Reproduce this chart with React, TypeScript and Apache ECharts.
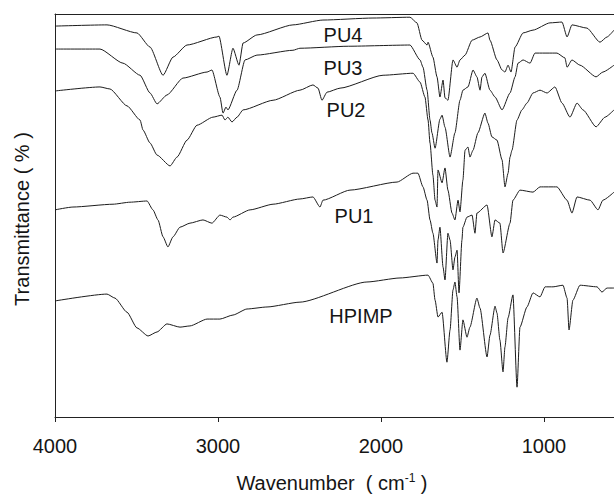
import React, { useEffect, useRef } from "react";
import * as echarts from "echarts";

// FTIR spectra: [wavenumber (cm-1), transmittance (a.u., stacked)]
const PU4: [number, number][] = [
  [4000, 97], [3681, 97.3], [3497, 95.3], [3417, 91.8], [3337, 84.8], [3276, 89.3], [3190, 92.3],
  [3006, 94.3], [2994, 94.5], [2945, 84.8], [2908, 91.5], [2871, 87.3], [2846, 92.8], [2761, 94.8],
  [2540, 97.3], [2356, 98.5], [2049, 99], [1822, 99.2], [1779, 97.8], [1748, 93.5], [1717, 92.3],
  [1711, 93], [1681, 89.3], [1656, 84.4], [1638, 79.4], [1619, 83.6], [1607, 79.2], [1589, 78.6],
  [1558, 88.6], [1533, 86.8], [1515, 88.6], [1484, 89.8], [1441, 93.5], [1392, 94.3], [1343, 95.3],
  [1331, 93.5], [1288, 88.6], [1257, 86.1], [1239, 85.6], [1220, 87.3], [1202, 85.6], [1177, 91.8],
  [1128, 95.3], [1067, 96], [963, 97.8], [889, 98], [858, 94.3], [828, 97.3], [736, 96.5],
  [656, 93], [613, 94.3], [570, 96],
];

const PU3: [number, number][] = [
  [4000, 91.3], [3724, 91.3], [3583, 87.8], [3478, 84.8], [3417, 80.4], [3374, 77.7], [3313, 79.9],
  [3215, 84.1], [3067, 85.6], [3037, 86.1], [2988, 79.4], [2969, 75.4], [2951, 76.9], [2939, 76.2],
  [2883, 81.1], [2834, 88.6], [2761, 89.8], [2540, 91], [2497, 91.5], [2200, 92], [1822, 92.3],
  [1760, 88.6], [1742, 86.8], [1717, 81.1], [1699, 73.7], [1687, 70.5], [1668, 66.7], [1638, 73.9],
  [1625, 74.9], [1607, 71.9], [1576, 64.5], [1546, 70.5], [1515, 78.6], [1497, 81.1], [1466, 81.9],
  [1435, 86.1], [1411, 84.4], [1392, 81.1], [1380, 84.4], [1362, 85.3], [1331, 81.1], [1300, 79.4],
  [1257, 76.2], [1208, 80.4], [1177, 84.4], [1159, 87.8], [1128, 88.6], [1085, 87.8], [1055, 90.3],
  [920, 90.3], [871, 89.1], [858, 86.8], [828, 88.6], [779, 87.3], [680, 84.4], [638, 85.6], [570, 87.3],
];

const PU2: [number, number][] = [
  [4000, 80.9], [3724, 81.9], [3663, 81.4], [3558, 77.2], [3478, 73.7], [3460, 71.2], [3417, 68],
  [3374, 65], [3294, 62.3], [3251, 64.5], [3190, 68.7], [3129, 72.4], [3031, 74.4], [2975, 74.9],
  [2957, 73.7], [2939, 74.4], [2914, 73.2], [2883, 74.4], [2846, 76.2], [2662, 78.6], [2497, 81.1],
  [2417, 82.4], [2386, 81.6], [2362, 78.6], [2331, 80.6], [2251, 81.6], [1987, 84.8], [1803, 85.3],
  [1760, 83.1], [1730, 79.4], [1711, 73.7], [1699, 68], [1681, 60], [1668, 53.8], [1656, 52.1],
  [1650, 61.3], [1625, 58.1], [1607, 61.8], [1589, 56.3], [1564, 50.6], [1546, 48.9], [1527, 53.8],
  [1515, 50.9], [1497, 58.8], [1484, 66.2], [1466, 67], [1454, 64.5], [1435, 66.2], [1405, 70.5],
  [1362, 75.4], [1343, 72.9], [1319, 69.5], [1288, 68.7], [1257, 63.8], [1239, 57.1], [1220, 60.5],
  [1208, 64.5], [1196, 66.2], [1165, 73.7], [1135, 76.2], [1104, 77.9], [1067, 80.4], [1024, 81.1],
  [981, 80.4], [932, 81.9], [889, 77.9], [840, 74.4], [797, 77.9], [760, 76.2], [680, 72],
  [625, 74.4], [570, 76.2],
];

const PU1: [number, number][] = [
  [4000, 51.4], [3890, 52.1], [3644, 52.8], [3540, 53.3], [3435, 53.6], [3399, 51.4], [3368, 48.9],
  [3337, 44.7], [3307, 42.2], [3276, 44.7], [3233, 47.1], [3172, 48.1], [3092, 48.9], [3037, 48.1],
  [2988, 50.1], [2945, 49.6], [2926, 48.9], [2908, 49.6], [2803, 51.4], [2662, 52.8], [2497, 54.1],
  [2417, 54.6], [2374, 52.1], [2356, 53.8], [2190, 56.3], [1901, 58.3], [1803, 60.5], [1773, 60.5],
  [1742, 57.1], [1717, 53.8], [1699, 48.9], [1681, 45.6], [1656, 38.2], [1650, 43.9], [1638, 47.1],
  [1619, 37.2], [1607, 34], [1589, 45.6], [1576, 43.9], [1558, 36.5], [1546, 39.7], [1533, 41.4],
  [1521, 30.8], [1503, 43.9], [1497, 47.1], [1472, 49.6], [1441, 50.1], [1423, 45.6], [1411, 50.6],
  [1349, 52.6], [1319, 44.7], [1300, 48.9], [1270, 48.1], [1251, 40.7], [1208, 48.1], [1190, 53.8],
  [1147, 56.3], [1067, 55.8], [1024, 57.1], [920, 57.1], [858, 53.8], [828, 50.6], [797, 54.6],
  [717, 53.8], [668, 51.4], [638, 53.8], [570, 55.8],
];

const HPIMP: [number, number][] = [
  [4000, 28.8], [3681, 30.5], [3632, 29.5], [3558, 26], [3497, 22.1], [3429, 20.1], [3374, 21.1],
  [3313, 23.1], [3233, 22.3], [3172, 22.6], [3067, 24.3], [2988, 24.3], [2908, 25.3], [2822, 26.8],
  [2699, 27.3], [2497, 28.5], [2086, 33.5], [1883, 34.5], [1711, 35.2], [1681, 33.2], [1668, 29],
  [1650, 24.8], [1625, 26], [1595, 13.6], [1576, 21.6], [1558, 31.5], [1546, 33.5], [1533, 29.8],
  [1515, 16.6], [1497, 24.1], [1472, 19.8], [1454, 22.3], [1411, 29.5], [1392, 27], [1349, 14.9],
  [1331, 20.3], [1300, 27.5], [1288, 25.8], [1270, 19.1], [1251, 11.2], [1239, 17.4], [1220, 24.6],
  [1190, 30.3], [1165, 7.4], [1147, 22.3], [1104, 27.3], [1067, 30.8], [1024, 29.8], [993, 32.3],
  [944, 32.3], [883, 32.7], [858, 29.5], [846, 21.6], [822, 29], [779, 32.7], [674, 32.3],
  [644, 31], [613, 32], [570, 32],
];

const SERIES_NAMES = ["PU4", "PU3", "PU2", "PU1", "HPIMP"];
const SERIES_DATA = [PU4, PU3, PU2, PU1, HPIMP];
const X_TICKS = [4000, 3000, 2000, 1000];
const X_MIN = 570;
const X_MAX = 4000;
const Y_MIN = 0;
const Y_MAX = 100;

const FONT = '"Liberation Sans", Arial, Helvetica, sans-serif';
const INK = "#151515";

function txt(text: string, x: number, y: number, extra: any = {}) {
  return {
    type: "text",
    x,
    y,
    ...extra,
    style: {
      text,
      fontSize: 20,
      fontFamily: FONT,
      fill: INK,
      align: "center",
      verticalAlign: "middle",
      textAlign: "center",
      textVerticalAlign: "middle",
      ...(extra.style || {}),
    },
  };
}

export default function App() {
  const ref = useRef<HTMLDivElement>(null);
  useEffect(() => {
    document.body.style.margin = "0";
    const chart = echarts.init(ref.current!, null, { renderer: "svg" });
    const option: any = {
      animation: false,
      backgroundColor: "#ffffff",
      grid: { left: 55, right: 0, top: 14, bottom: 78 },
      xAxis: [
        {
          type: "value",
          min: X_MIN,
          max: X_MAX,
          inverse: true,
          position: "bottom",
          axisLine: { show: true, onZero: false, lineStyle: { color: "#222", width: 1 } },
          axisTick: { show: true, customValues: X_TICKS, length: 5, lineStyle: { color: "#222" } },
          axisLabel: {
            customValues: X_TICKS,
            fontSize: 20,
            fontFamily: FONT,
            color: INK,
            margin: 19,
            formatter: (v: number) => String(v),
          },
          splitLine: { show: false },
        },
        {
          type: "value",
          min: X_MIN,
          max: X_MAX,
          inverse: true,
          position: "top",
          axisLine: { show: true, onZero: false, lineStyle: { color: "#222", width: 1 } },
          axisTick: { show: false },
          axisLabel: { show: false },
          splitLine: { show: false },
        },
      ],
      yAxis: {
        type: "value",
        min: Y_MIN,
        max: Y_MAX,
        axisLine: { show: true, onZero: false, lineStyle: { color: "#222", width: 1 } },
        axisTick: { show: false },
        axisLabel: { show: false },
        splitLine: { show: false },
      },
      series: SERIES_DATA.map((d, i) => ({
        name: SERIES_NAMES[i],
        type: "line",
        data: d,
        xAxisIndex: 0,
        showSymbol: false,
        symbol: "none",
        smooth: 0.2,
        smoothMonotone: "x",
        lineStyle: { color: "#1c1c1c", width: 1 },
      })),
      graphic: [
        txt("PU4", 343, 35),
        txt("PU3", 343, 68),
        txt("PU2", 346, 110),
        txt("PU1", 354, 216),
        txt("HPIMP", 361, 316),
        txt("Transmittance ( % )", 22, 219, { rotation: Math.PI / 2 }),
        {
          type: "text",
          x: 332,
          y: 483,
          style: {
            text: "{a|Wavenumber  ( cm}{s|-1}{a| )}",
            align: "center",
            verticalAlign: "middle",
            textAlign: "center",
            textVerticalAlign: "middle",
            fill: INK,
            rich: {
              a: { fontSize: 20, fontFamily: FONT, fill: INK, lineHeight: 22 },
              s: { fontSize: 12, fontFamily: FONT, fill: INK, verticalAlign: "top", lineHeight: 22 },
            },
          },
        },
      ],
    };
    chart.setOption(option);
    return () => chart.dispose();
  }, []);
  return (
    <div
      ref={ref}
      style={{ position: "absolute", left: 0, top: 0, width: 614, height: 495, background: "#fff" }}
    />
  );
}
